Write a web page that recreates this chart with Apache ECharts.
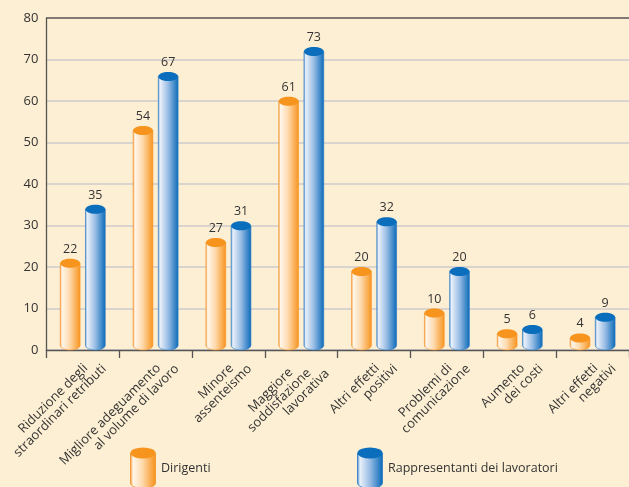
<!DOCTYPE html>
<html>
<head>
<meta charset="utf-8">
<script src="https://cdn.jsdelivr.net/npm/echarts@6/dist/echarts.min.js"></script>
<style>
html,body{margin:0;padding:0;background:#fdefd3;}
#chart{width:629px;height:487px;}
</style>
</head>
<body>
<div id="chart"></div>
<script>
var categories = [
  ['Riduzione degli', 'straordinari retributi'],
  ['Migliore adeguamento', 'al volume di lavoro'],
  ['Minore', 'assenteismo'],
  ['Maggiore', 'soddisfazione', 'lavorativa'],
  ['Altri effetti', 'positivi'],
  ['Problemi di', 'comunicazione'],
  ['Aumento', 'dei costi'],
  ['Altri effetti', 'negativi']
];
var dirigenti = [22, 54, 27, 61, 20, 10, 5, 4];
var rappresentanti = [35, 67, 31, 73, 32, 20, 6, 9];
var seriesNames = ['Dirigenti', 'Rappresentanti dei lavoratori'];
var yTicks = [0, 10, 20, 30, 40, 50, 60, 70, 80];

var FONT = '"Open Sans", "Noto Sans", sans-serif';
var LH = 13.4;

// each earlier line ends a little earlier along the text direction (line ends sit on one horizontal)
var rich = {};
[0, 1, 2].forEach(function (k) {
  rich['l' + k] = { fontSize: 13, lineHeight: LH, color: '#333', fontFamily: FONT, padding: [0, k * 12.5, 0, 0] };
});

var styles = [
  { top: '#f7941d', stops: [[0, '#f29a3a'], [0.1, '#fff6ea'], [0.45, '#fedcb2'], [1, '#f7941d']], edge: '#f39228' },
  { top: '#0a6ebd', stops: [[0, '#4f8fd0'], [0.1, '#eaf1fa'], [0.5, '#98bce4'], [1, '#0a6ab9']], edge: '#2a78c4' }
];

function grad(st) {
  return new echarts.graphic.LinearGradient(0, 0, 1, 0, st.stops.map(function (s) { return { offset: s[0], color: s[1] }; }));
}

function makeRender(si) {
  return function (params, api) {
    var idx = api.value(0), val = api.value(1);
    var band = api.size([1, 0])[0];
    var c = api.coord([idx, val]);
    var base = api.coord([idx, 0]);
    var off = band * 0.173 * (si === 0 ? -1 : 1);
    var cx = c[0] + off;
    var w = band * 0.272;
    var ry = 4.5;
    var topC = c[1] + ry;
    var botC = base[1] - ry;
    var x0 = cx - w / 2;
    var st = styles[si];
    var g = grad(st);
    var bodyPath = 'M' + x0 + ',' + topC +
      ' L' + x0 + ',' + botC +
      ' A' + (w / 2) + ',' + ry + ' 0 0 0 ' + (x0 + w) + ',' + botC +
      ' L' + (x0 + w) + ',' + topC + ' Z';
    return {
      type: 'group',
      children: [
        { type: 'path', shape: { pathData: bodyPath }, style: { fill: g, stroke: st.edge, lineWidth: 0.6 } },
        { type: 'ellipse', shape: { cx: cx, cy: topC, rx: w / 2, ry: ry }, style: { fill: st.top } },
        { type: 'text', x: cx, y: c[1] - 3, style: { text: String(val), fill: '#333', font: '12.5px ' + FONT, align: 'center', verticalAlign: 'bottom' } }
      ]
    };
  };
}

function iconSvg(st) {
  var stops = st.stops.map(function (s) { return '<stop offset="' + s[0] + '" stop-color="' + s[1] + '"/>'; }).join('');
  var svg = '<svg xmlns="http://www.w3.org/2000/svg" width="26" height="42" viewBox="0 0 26 42">' +
    '<defs><linearGradient id="g" x1="0" y1="0" x2="1" y2="0">' + stops + '</linearGradient></defs>' +
    '<path d="M0.5,6 L0.5,36 A12.5,5.5 0 0 0 25.5,36 L25.5,6 Z" fill="url(#g)" stroke="' + st.edge + '" stroke-width="0.8"/>' +
    '<ellipse cx="13" cy="6" rx="12.5" ry="5.5" fill="' + st.top + '"/></svg>';
  return 'image://data:image/svg+xml;charset=utf-8,' + encodeURIComponent(svg);
}

var splitColors = yTicks.map(function (v, i) { return i === yTicks.length - 1 ? '#555' : '#cccccc'; });

var legendBase = { top: 447, padding: 0, itemWidth: 26, itemHeight: 42, itemGap: 0, selectedMode: false,
  textStyle: { fontSize: 12.5, color: '#333', fontFamily: FONT } };

var chart = echarts.init(document.getElementById('chart'));
chart.setOption({
  backgroundColor: '#fdefd3',
  animation: false,
  textStyle: { fontFamily: FONT },
  grid: { left: 46, top: 18, width: 586, height: 332, containLabel: false },
  legend: [
    Object.assign({}, legendBase, { left: 130, data: [{ name: seriesNames[0], icon: iconSvg(styles[0]) }] }),
    Object.assign({}, legendBase, { left: 357, data: [{ name: seriesNames[1], icon: iconSvg(styles[1]) }] })
  ],
  xAxis: {
    type: 'category',
    data: categories.map(function (c) { return c.join('\n'); }),
    axisLine: { lineStyle: { color: '#555', width: 1.3 } },
    axisTick: { show: true, length: 8, alignWithLabel: false, lineStyle: { color: '#555', width: 1.3 } },
    axisLabel: {
      interval: 0,
      rotate: 45,
      margin: 12,
      align: 'right',
      verticalAlign: 'middle',
      padding: [23.5, -11.7, 0, 0],
      formatter: function (v) {
        var lines = v.split('\n');
        var n = lines.length;
        return lines.map(function (l, k) { return '{l' + (n - 1 - k) + '|' + l + '}'; }).join('\n');
      },
      rich: rich
    }
  },
  yAxis: {
    type: 'value',
    min: 0, max: 80, interval: 10,
    axisLine: { show: true, lineStyle: { color: '#555', width: 1.3 } },
    axisTick: { show: false },
    axisLabel: { fontSize: 13, color: '#333', margin: 8, fontFamily: FONT },
    splitLine: { show: true, lineStyle: { color: splitColors, width: 1.6 } }
  },
  series: [
    { name: seriesNames[0], type: 'custom', renderItem: makeRender(0), encode: { x: 0, y: 1 }, itemStyle: { color: '#f7941d' },
      data: dirigenti.map(function (v, i) { return [i, v]; }) },
    { name: seriesNames[1], type: 'custom', renderItem: makeRender(1), encode: { x: 0, y: 1 }, itemStyle: { color: '#0a6ebd' },
      data: rappresentanti.map(function (v, i) { return [i, v]; }) }
  ]
});
</script>
</body>
</html>
